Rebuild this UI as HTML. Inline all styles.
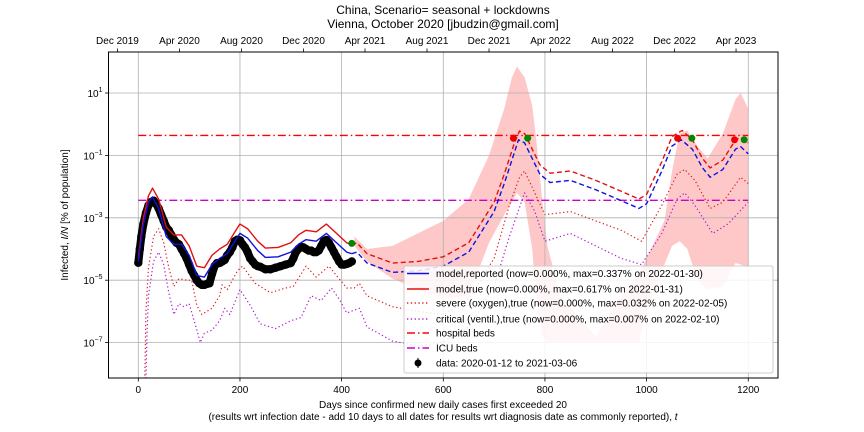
<!DOCTYPE html>
<html><head><meta charset="utf-8"><style>
body{margin:0;background:#fff;}
svg{display:block;font-family:"Liberation Sans","DejaVu Sans",sans-serif;}
</style></head><body>
<svg id="chart" width="864" height="432" viewBox="0 0 864 432">
<rect width="864" height="432" fill="#fff"/>
<g id="band"></g>
<g id="grid"></g>
<g id="series"></g>
<g id="axes"></g>
<text x="443" y="14" text-anchor="middle" font-size="12">China, Scenario= seasonal + lockdowns</text>
<text x="443" y="28" text-anchor="middle" font-size="12">Vienna, October 2020 [jbudzin@gmail.com]</text>
<text x="443" y="408" text-anchor="middle" font-size="10">Days since confirmed new daily cases first exceeded 20</text>
<text x="443" y="420" text-anchor="middle" font-size="10">(results wrt infection date - add 10 days to all dates for results wrt diagnosis date as commonly reported), <tspan font-style="italic">t</tspan></text>
<text transform="translate(68,215) rotate(-90)" text-anchor="middle" font-size="10">Infected, <tspan font-style="italic">I/N</tspan> [% of population]</text>
<g id="legend">
<rect x="404" y="266" width="369" height="107" rx="2" fill="#fff" fill-opacity="0.85" stroke="#ccc"/>
</g>
</svg>
<script>
const NS="http://www.w3.org/2000/svg";
// ---- data ----
const redDays=[0,10,20,28,40,55,70,85,100,115,130,145,160,175,190,200,215,235,250,275,300,315,330,350,370,390,410,420];
const redVals=[-4.3,-3.0,-2.3,-2.05,-2.4,-3.3,-3.55,-3.55,-3.9,-4.55,-4.6,-4.2,-4.0,-3.85,-3.45,-3.2,-3.35,-3.75,-3.97,-3.95,-3.8,-3.55,-3.4,-3.45,-3.2,-3.5,-3.8,-3.88];
const redFDays=[420,430,450,500,550,600,650,700,720,740,750,760,775,790,810,850,900,950,985,1000,1030,1050,1070,1090,1110,1125,1150,1175,1185,1200];
const redFVals=[-3.88,-3.8,-4.15,-4.45,-4.4,-4.25,-3.8,-2.5,-1.6,-0.6,-0.22,-0.3,-0.8,-1.3,-1.57,-1.5,-1.8,-2.15,-2.4,-2.25,-1.2,-0.4,-0.2,-0.5,-1.1,-1.4,-1.15,-0.5,-0.42,-0.6];
const blueDays=[0,10,20,28,40,55,70,85,100,115,130,145,160,175,190,200,215,235,250,275,300,315,330,350,370,390,410,420];
const blueVals=[-4.4,-3.2,-2.5,-2.33,-2.7,-3.6,-3.85,-3.85,-4.2,-4.85,-4.9,-4.5,-4.3,-4.15,-3.75,-3.5,-3.65,-4.05,-4.27,-4.25,-4.1,-3.85,-3.7,-3.75,-3.5,-3.8,-4.1,-4.15];
const blueFDays=[420,430,450,500,550,600,650,700,720,740,748,760,775,790,810,850,900,950,985,1000,1030,1050,1068,1090,1110,1125,1150,1175,1185,1200];
const blueFVals=[-4.15,-4.1,-4.45,-4.75,-4.7,-4.55,-4.1,-2.8,-1.9,-0.9,-0.5,-0.6,-1.1,-1.6,-1.87,-1.8,-2.1,-2.45,-2.7,-2.55,-1.5,-0.7,-0.5,-0.8,-1.4,-1.7,-1.45,-0.8,-0.72,-0.95];
const sevDays=[10,12,15,20,30,40,50,60,70,80,95,105,115,125,145,160,165,175,195,205,230,260,290,305,330,350,375,395,410,425,435,450,500,550,600,650,700,730,750,760,780,800,850,900,950,990,1030,1060,1075,1095,1125,1150,1185,1200];
const sevVals=[-9,-9,-6,-4.6,-3.6,-3.35,-3.8,-4.6,-5.2,-4.95,-5.0,-5.0,-5.8,-6.1,-5.9,-5.5,-5.15,-5.3,-4.7,-4.55,-5.1,-5.4,-5.25,-5.2,-4.55,-4.9,-4.55,-4.95,-5.25,-5.25,-5.1,-5.5,-5.85,-6.0,-6.1,-5.6,-4.3,-2.6,-1.7,-1.5,-2.2,-2.9,-2.8,-3.1,-3.4,-3.75,-2.6,-1.6,-1.45,-1.8,-2.7,-2.5,-1.7,-1.9];
const critDays=[14,17,20,30,40,50,60,70,80,90,100,110,122,130,145,160,170,180,200,220,240,270,300,320,340,360,380,395,410,435,450,500,550,600,650,700,730,760,780,800,850,900,950,990,1030,1060,1075,1095,1130,1160,1200];
const critVals=[-9,-6.8,-5.5,-4.4,-4.1,-4.5,-5.4,-6.1,-5.75,-5.85,-5.75,-6.3,-7.0,-6.7,-6.6,-6.3,-5.9,-6.1,-5.3,-5.8,-6.4,-6.55,-6.3,-6.2,-5.5,-5.65,-5.25,-5.6,-6.05,-5.9,-6.5,-6.95,-7.1,-7.0,-6.5,-5.2,-3.6,-2.2,-2.8,-3.75,-3.5,-3.9,-4.3,-4.5,-3.5,-2.4,-2.2,-2.6,-3.5,-3.2,-2.5];
const dataDays=[0,3,6,10,15,20,25,30,35,40,45,50,55,60,65,70,75,80,85,90,95,100,105,110,115,120,125,130,135,140,145,150,155,160,165,170,175,180,185,190,195,200,205,210,215,220,225,230,235,240,250,260,270,280,290,300,305,310,315,320,325,330,335,340,345,350,355,360,365,370,375,380,385,390,395,400,405,410,415,420];
const dataVals=[-4.44,-4.0,-3.6,-3.2,-2.85,-2.6,-2.5,-2.45,-2.55,-2.7,-2.9,-3.1,-3.3,-3.4,-3.55,-3.7,-3.8,-3.85,-4.0,-4.14,-4.3,-4.5,-4.7,-4.85,-5.0,-5.1,-5.15,-5.15,-5.12,-5.1,-4.8,-4.55,-4.45,-4.45,-4.4,-4.35,-4.2,-4.1,-3.95,-3.75,-3.7,-3.72,-3.85,-3.95,-4.1,-4.3,-4.4,-4.5,-4.55,-4.57,-4.65,-4.65,-4.6,-4.55,-4.5,-4.45,-4.3,-4.1,-4.0,-3.93,-3.95,-4.0,-4.05,-4.05,-4.1,-4.1,-4.05,-3.9,-3.75,-3.71,-3.8,-3.95,-4.1,-4.25,-4.4,-4.5,-4.5,-4.48,-4.45,-4.4];
const bandDays=[425,450,500,550,600,650,690,720,735,745,760,775,785,795,805,830,900,950,985,1000,1035,1050,1065,1080,1100,1120,1150,1175,1185,1200];
const bandHigh=[-3.6,-4.0,-3.9,-3.5,-3.1,-2.4,-1.0,0.5,1.5,1.85,1.5,0.6,-0.8,-2.5,-3.9,-5.5,-6.8,-5.5,-4.8,-4.3,-3.1,-1.5,-0.3,-0.2,-0.7,-1.1,-0.3,0.8,1.0,0.5];
const bandLow=[-3.9,-4.4,-4.95,-5.3,-5.6,-5.5,-3.8,-2.9,-2.5,-2.2,-2.5,-4.0,-6.0,-6.8,-7.0,-7.0,-7.0,-7.0,-7.0,-6.0,-4.5,-3.9,-3.75,-4.0,-5.0,-5.3,-5.2,-4.45,-4.5,-4.6];
const hospBeds=[-0.36];
const icuBeds=[-2.44];
const peakRedDays=[738,1061,1173];
const peakRedVals=[-0.45,-0.45,-0.5];
const peakGreenDays=[420,766,1089,1192];
const peakGreenVals=[-3.82,-0.45,-0.45,-0.5];
const xTicks=[0,200,400,600,800,1000,1200];
const yTicks=[1,-1,-3,-5,-7];
const topLabels=["Dec 2019","Apr 2020","Aug 2020","Dec 2020","Apr 2021","Aug 2021","Dec 2021","Apr 2022","Aug 2022","Dec 2022","Apr 2023"];
const topDays=[-41,81,203,325,446,568,690,811,933,1055,1176];
// ---- axes ----
const L=108.5,R=778,T=52,B=378;
const X=d=>138.3+d*0.5083;
const Y=v=>93-(v-1)*31.2;
function el(tag,attrs,parent){const e=document.createElementNS(NS,tag);for(const k in attrs)e.setAttribute(k,attrs[k]);parent.appendChild(e);return e;}
const grid=document.getElementById('grid'),axes=document.getElementById('axes'),ser=document.getElementById('series'),band=document.getElementById('band');
xTicks.forEach(d=>{
 const g=el('line',{x1:X(d),x2:X(d),y1:T,y2:B,stroke:'#b0b0b0','stroke-width':0.8},grid);
 
 
 el('line',{x1:X(d),x2:X(d),y1:B,y2:B+3.5,stroke:'#000','stroke-width':0.8},axes);
 const t=el('text',{x:X(d),y:B+15,'text-anchor':'middle','font-size':10},axes);t.textContent=d;
 
 
});
yTicks.forEach(v=>{
 const g=el('line',{x1:L,x2:R,y1:Y(v),y2:Y(v),stroke:'#b0b0b0','stroke-width':0.8},grid);
 
 
 el('line',{x1:L-3.5,x2:L,y1:Y(v),y2:Y(v),stroke:'#000','stroke-width':0.8},axes);
 const t=el('text',{x:L-6,y:Y(v)+4,'text-anchor':'end','font-size':10},axes);
 
 
 t.innerHTML='10<tspan dy="-5" font-size="7">'+(v<0?'\u2212'+(-v):v)+'</tspan>';
});
topDays.forEach((d,i)=>{
 el('line',{x1:X(d),x2:X(d),y1:T-3.5,y2:T,stroke:'#000','stroke-width':0.8},axes);
 const t=el('text',{x:X(d),y:T-8,'text-anchor':'middle','font-size':10},axes);t.textContent=topLabels[i];
 
 
});
const fr=el('rect',{x:L,y:T,width:R-L,height:B-T,fill:'none',stroke:'#000','stroke-width':1},axes);


const defs=el('defs',{},document.getElementById('chart'));
const cp=el('clipPath',{id:'clip'},defs);el('rect',{x:L,y:T,width:R-L,height:B-T},cp);
band.setAttribute('clip-path','url(#clip)');ser.setAttribute('clip-path','url(#clip)');
let bp='M'+bandDays.map((d,i)=>X(d)+','+Y(bandHigh[i])).join('L');
for(let i=bandDays.length-1;i>=0;i--)bp+='L'+X(bandDays[i])+','+Y(bandLow[i]);
const bpath=el('path',{d:bp+'Z',fill:'#ffc8c8',stroke:'none'},band);


function line(days,vals,attrs,name){
 const p=el('path',Object.assign({d:'M'+days.map((d,i)=>X(d)+','+Y(vals[i])).join('L'),fill:'none','stroke-linejoin':'round'},attrs),ser);
 
 
}
line([0,1200],[hospBeds[0],hospBeds[0]],{stroke:'#f00',"stroke-width":1.3,'stroke-dasharray':'8,3,1.5,3'},'hospital-beds-line');
line([0,1200],[icuBeds[0],icuBeds[0]],{stroke:'#c0c',"stroke-width":1.3,'stroke-dasharray':'8,3,1.5,3'},'icu-beds-line');
line(sevDays,sevVals,{stroke:'#e02020','stroke-width':1.2,'stroke-dasharray':'1.3,2.5'},'severe-line');
line(critDays,critVals,{stroke:'#b020d0','stroke-width':1.2,'stroke-dasharray':'1.3,2.5'},'critical-line');
line(dataDays,dataVals,{stroke:'#000','stroke-width':8,'stroke-linecap':'round'},'data-trace');
dataDays.forEach((d,i)=>{const c=el('circle',{cx:X(d),cy:Y(dataVals[i]),r:4.2,fill:'#000'},ser);
 
 });
line(redDays,redVals,{stroke:'#e01010','stroke-width':1.4},'model-true-line');
line(blueDays,blueVals,{stroke:'#1010e0','stroke-width':1.4},'model-reported-line');
line(redFDays,redFVals,{stroke:'#e01010','stroke-width':1.4,'stroke-dasharray':'5,3'},'model-true-forecast');
line(blueFDays,blueFVals,{stroke:'#1010e0','stroke-width':1.4,'stroke-dasharray':'5,3'},'model-reported-forecast');
peakRedDays.forEach((d,i)=>{const c=el('circle',{cx:X(d),cy:Y(peakRedVals[i]),r:3.5,fill:'#e00'},ser);
 
 });
peakGreenDays.forEach((d,i)=>{const c=el('circle',{cx:X(d),cy:Y(peakGreenVals[i]),r:3.5,fill:'#080'},ser);
 
 });
const leg=document.getElementById('legend');
const legItems=[
 ['model,reported (now=0.000%, max=0.337% on 2022-01-30)','#1010e0',''],
 ['model,true (now=0.000%, max=0.617% on 2022-01-31)','#e01010',''],
 ['severe (oxygen),true (now=0.000%, max=0.032% on 2022-02-05)','#e02020','1.3,2.5'],
 ['critical (ventil.),true (now=0.000%, max=0.007% on 2022-02-10)','#b020d0','1.3,2.5'],
 ['hospital beds','#f00','8,3,1.5,3'],
 ['ICU beds','#c0c','8,3,1.5,3'],
 ['data: 2020-01-12 to 2021-03-06','#000','dot']];
const legY=[273.5,289,303,319,333,348,363];
legItems.forEach((it,i)=>{
 const y=legY[i];
 if(it[2]==='dot'){el('circle',{cx:418,cy:y,r:3.5,fill:'#000'},leg);el('line',{x1:418,x2:418,y1:y-5,y2:y+5,stroke:'#000'},leg);}
 else el('line',{x1:407,x2:429,y1:y,y2:y,stroke:it[1],'stroke-width':1.5,'stroke-dasharray':it[2]||'none'},leg);
 const t=el('text',{x:436,y:y+3.5,'font-size':10},leg);t.textContent=it[0];
 
 
});
</script>
</body></html>
